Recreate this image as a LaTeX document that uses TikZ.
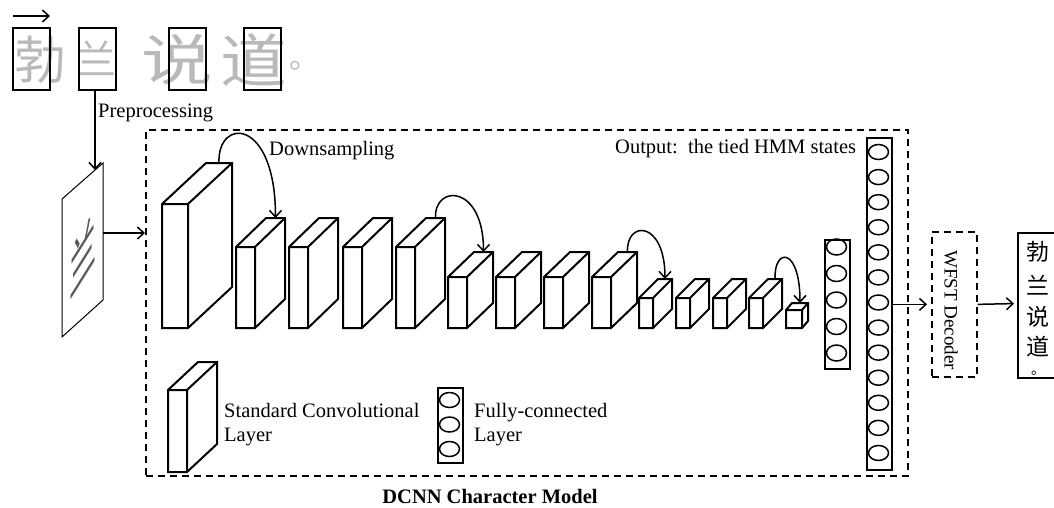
\documentclass[tikz,border=0pt]{standalone}
\usepackage{fontspec}
\setmainfont{Liberation Serif}
\newfontfamily\cjk{Noto Sans CJK SC}
\usetikzlibrary{arrows.meta}
\newcommand\cnnblk[7]{%
  \draw[blk] (#2,#3) -- (#2+#6,#3-#7) -- (#2+#4+#6,#3-#7) -- (#2+#4+#6,#5-#7) -- (#2+#4,#5) -- (#2,#5) -- cycle;
  \draw[blk,fill=none] (#2,#3) -- (#2+#4,#3) -- (#2+#4+#6,#3-#7) (#2+#4,#3) -- (#2+#4,#5);
  \coordinate (#1) at (#2+#4/2+#6,#3-#7);
}
\begin{document}
\begin{tikzpicture}[x=1pt,y=-1pt,
  blk/.style={line width=2pt, fill=white},
  arr/.style={line width=1.5pt, -{Straight Barb[length=6.5pt,width=12pt,line width=1.5pt]}},
  dsh/.style={line width=1.7pt, dash pattern=on 7pt off 5pt},
  lbl/.style={font=\fontsize{20.5}{25}\selectfont, inner sep=0pt},
  hw/.style={text=gray!55, inner sep=0pt, font=\cjk\fontsize{#1}{#1}\selectfont},
  hwbox/.style={draw, line width=2pt, minimum width=37pt, minimum height=62pt, inner sep=0pt},
  col/.style={draw, line width=2pt, inner sep=0pt, anchor=north west},
  cir/.style={line width=1.5pt},
  res/.style={inner sep=0pt, font=\cjk\fontsize{23}{23}\selectfont},
]
\useasboundingbox (0,0) rectangle (1054,507);

% top: handwritten text line
\coordinate (ta) at (13,16);
\coordinate (tb) at (50,16);
\draw[arr] (ta) -- (tb);
\node[hw=52] (h1) at (40,60) {勃};
\node[hw=40] (h2) at (96,58) {兰};
\node[hw=55, xscale=1.3] (h3) at (177,60) {说};
\node[hw=58, xscale=1.15] (h4) at (254,60) {道};
\node[hw=30, anchor=base west] (h5) at (289,68) {。};
\node[hwbox] (w1) at (31.5,59) {};
\node[hwbox] (w2) at (97.5,59) {};
\node[hwbox] (w3) at (187.5,59) {};
\node[hwbox] (w4) at (262,59) {};

% preprocessing
\coordinate (pp) at (95,170);
\draw[arr] (w2.south -| pp) -- (pp);
\node[lbl, anchor=base west] (ppl) at (98,117) {Preprocessing};
\draw[line width=1pt] (62,199) -- (103,163) -- (103,300) -- (62,337) -- cycle;
\node[inner sep=0pt, text=black!65, font=\cjk\fontsize{54}{54}\selectfont, cm={0.5,0.8,0,1.1,(0,0)}] (pimg) at (83,255) {兰};

% DCNN box
\node[draw, dsh, minimum width=762pt, minimum height=346pt, inner sep=0pt, anchor=north west] (dcnn) at (145,129) {};
\coordinate (img) at (103,233);
\draw[arr] (img) -- (img -| dcnn.west);
\node[lbl, font=\fontsize{20.5}{25}\selectfont\bfseries, anchor=base] (dl) at (490,503) {DCNN Character Model};

% conv blocks
\cnnblk{b1}{162}{204}{26}{328}{44}{41}
\cnnblk{b2}{236}{247}{19}{328}{30}{29}
\cnnblk{b3}{289}{247}{19}{328}{30}{29}
\cnnblk{b4}{343}{247}{19}{328}{30}{29}
\cnnblk{b5}{396}{247}{19}{328}{30}{29}
\cnnblk{b6}{448}{277}{19}{328}{26}{25}
\cnnblk{b7}{496}{277}{19}{328}{26}{25}
\cnnblk{b8}{544}{277}{19}{328}{26}{25}
\cnnblk{b9}{592}{277}{19}{328}{26}{25}
\cnnblk{b10}{639}{298}{14}{328}{19}{19}
\cnnblk{b11}{676}{298}{14}{328}{19}{19}
\cnnblk{b12}{713}{298}{14}{328}{19}{19}
\cnnblk{b13}{749}{298}{14}{328}{19}{19}
\cnnblk{b14}{786}{310}{16}{328}{6}{7}

% downsampling arcs
\draw[arr] (b1) .. controls (217,117) and (275.5,117) .. (b2);
\draw[arr] (b5) .. controls (434,184) and (483.5,184) .. (b6);
\draw[arr] (b9) .. controls (626,220) and (665,220) .. (b10);
\draw[arr] (b13) .. controls (774,247) and (800,247) .. (b14);
\node[lbl, anchor=base west] (dsl) at (269,155) {Downsampling};

% fully connected columns
\node[col, minimum width=25pt, minimum height=129pt] (fc1) at (824,239) {};
\foreach \k in {0,...,4} \draw[cir] (836.5,247+\k*26.5) ellipse (10 and 8);
\node[col, minimum width=25pt, minimum height=332pt] (out) at (866,137) {};
\foreach \k in {0,...,12} \draw[cir] (878.5,152+\k*25.08) ellipse (10 and 7.5);
\node[lbl, anchor=base west] (ol) at (615,153) {Output:\ \ the tied HMM states};

% decoder
\node[draw, dsh, minimum width=45pt, minimum height=145pt, inner sep=0pt, anchor=north west] (wfst) at (931,231) {};
\node[lbl, font=\fontsize{19}{22}\selectfont, rotate=-90] (wl) at (951,310) {WFST Decoder};
\draw[arr, shorten >=4pt] (out.east |- wfst.west) -- (wfst.west);
\coordinate (resw) at (1018,303.5);
\draw[line width=1.7pt] (1056,233) -| (1018,378) -- (1056,378);
\draw[arr, shorten >=4pt] (wfst.east) -- (resw);
\node[res] (r1) at (1038,252) {勃};
\node[res] (r2) at (1038,285) {兰};
\node[res] (r3) at (1038,317) {说};
\node[res] (r4) at (1038,347) {道};
\node[res, font=\cjk\fontsize{14}{14}\selectfont, anchor=base west] (r5) at (1031,374) {。};

% legend
\cnnblk{lg}{168}{390}{19}{472}{30}{28}
\node[lbl, anchor=base west] (lg1) at (224,417) {Standard Convolutional};
\node[lbl, anchor=base west] (lg2) at (224,441) {Layer};
\node[col, minimum width=25pt, minimum height=75pt] (lfc) at (437,387) {};
\foreach \yy in {400,424.5,449} \draw[cir] (449.5,\yy) ellipse (10 and 7.5);
\node[lbl, anchor=base west] (lf1) at (474,417) {Fully-connected};
\node[lbl, anchor=base west] (lf2) at (474,441) {Layer};
\end{tikzpicture}
\end{document}
